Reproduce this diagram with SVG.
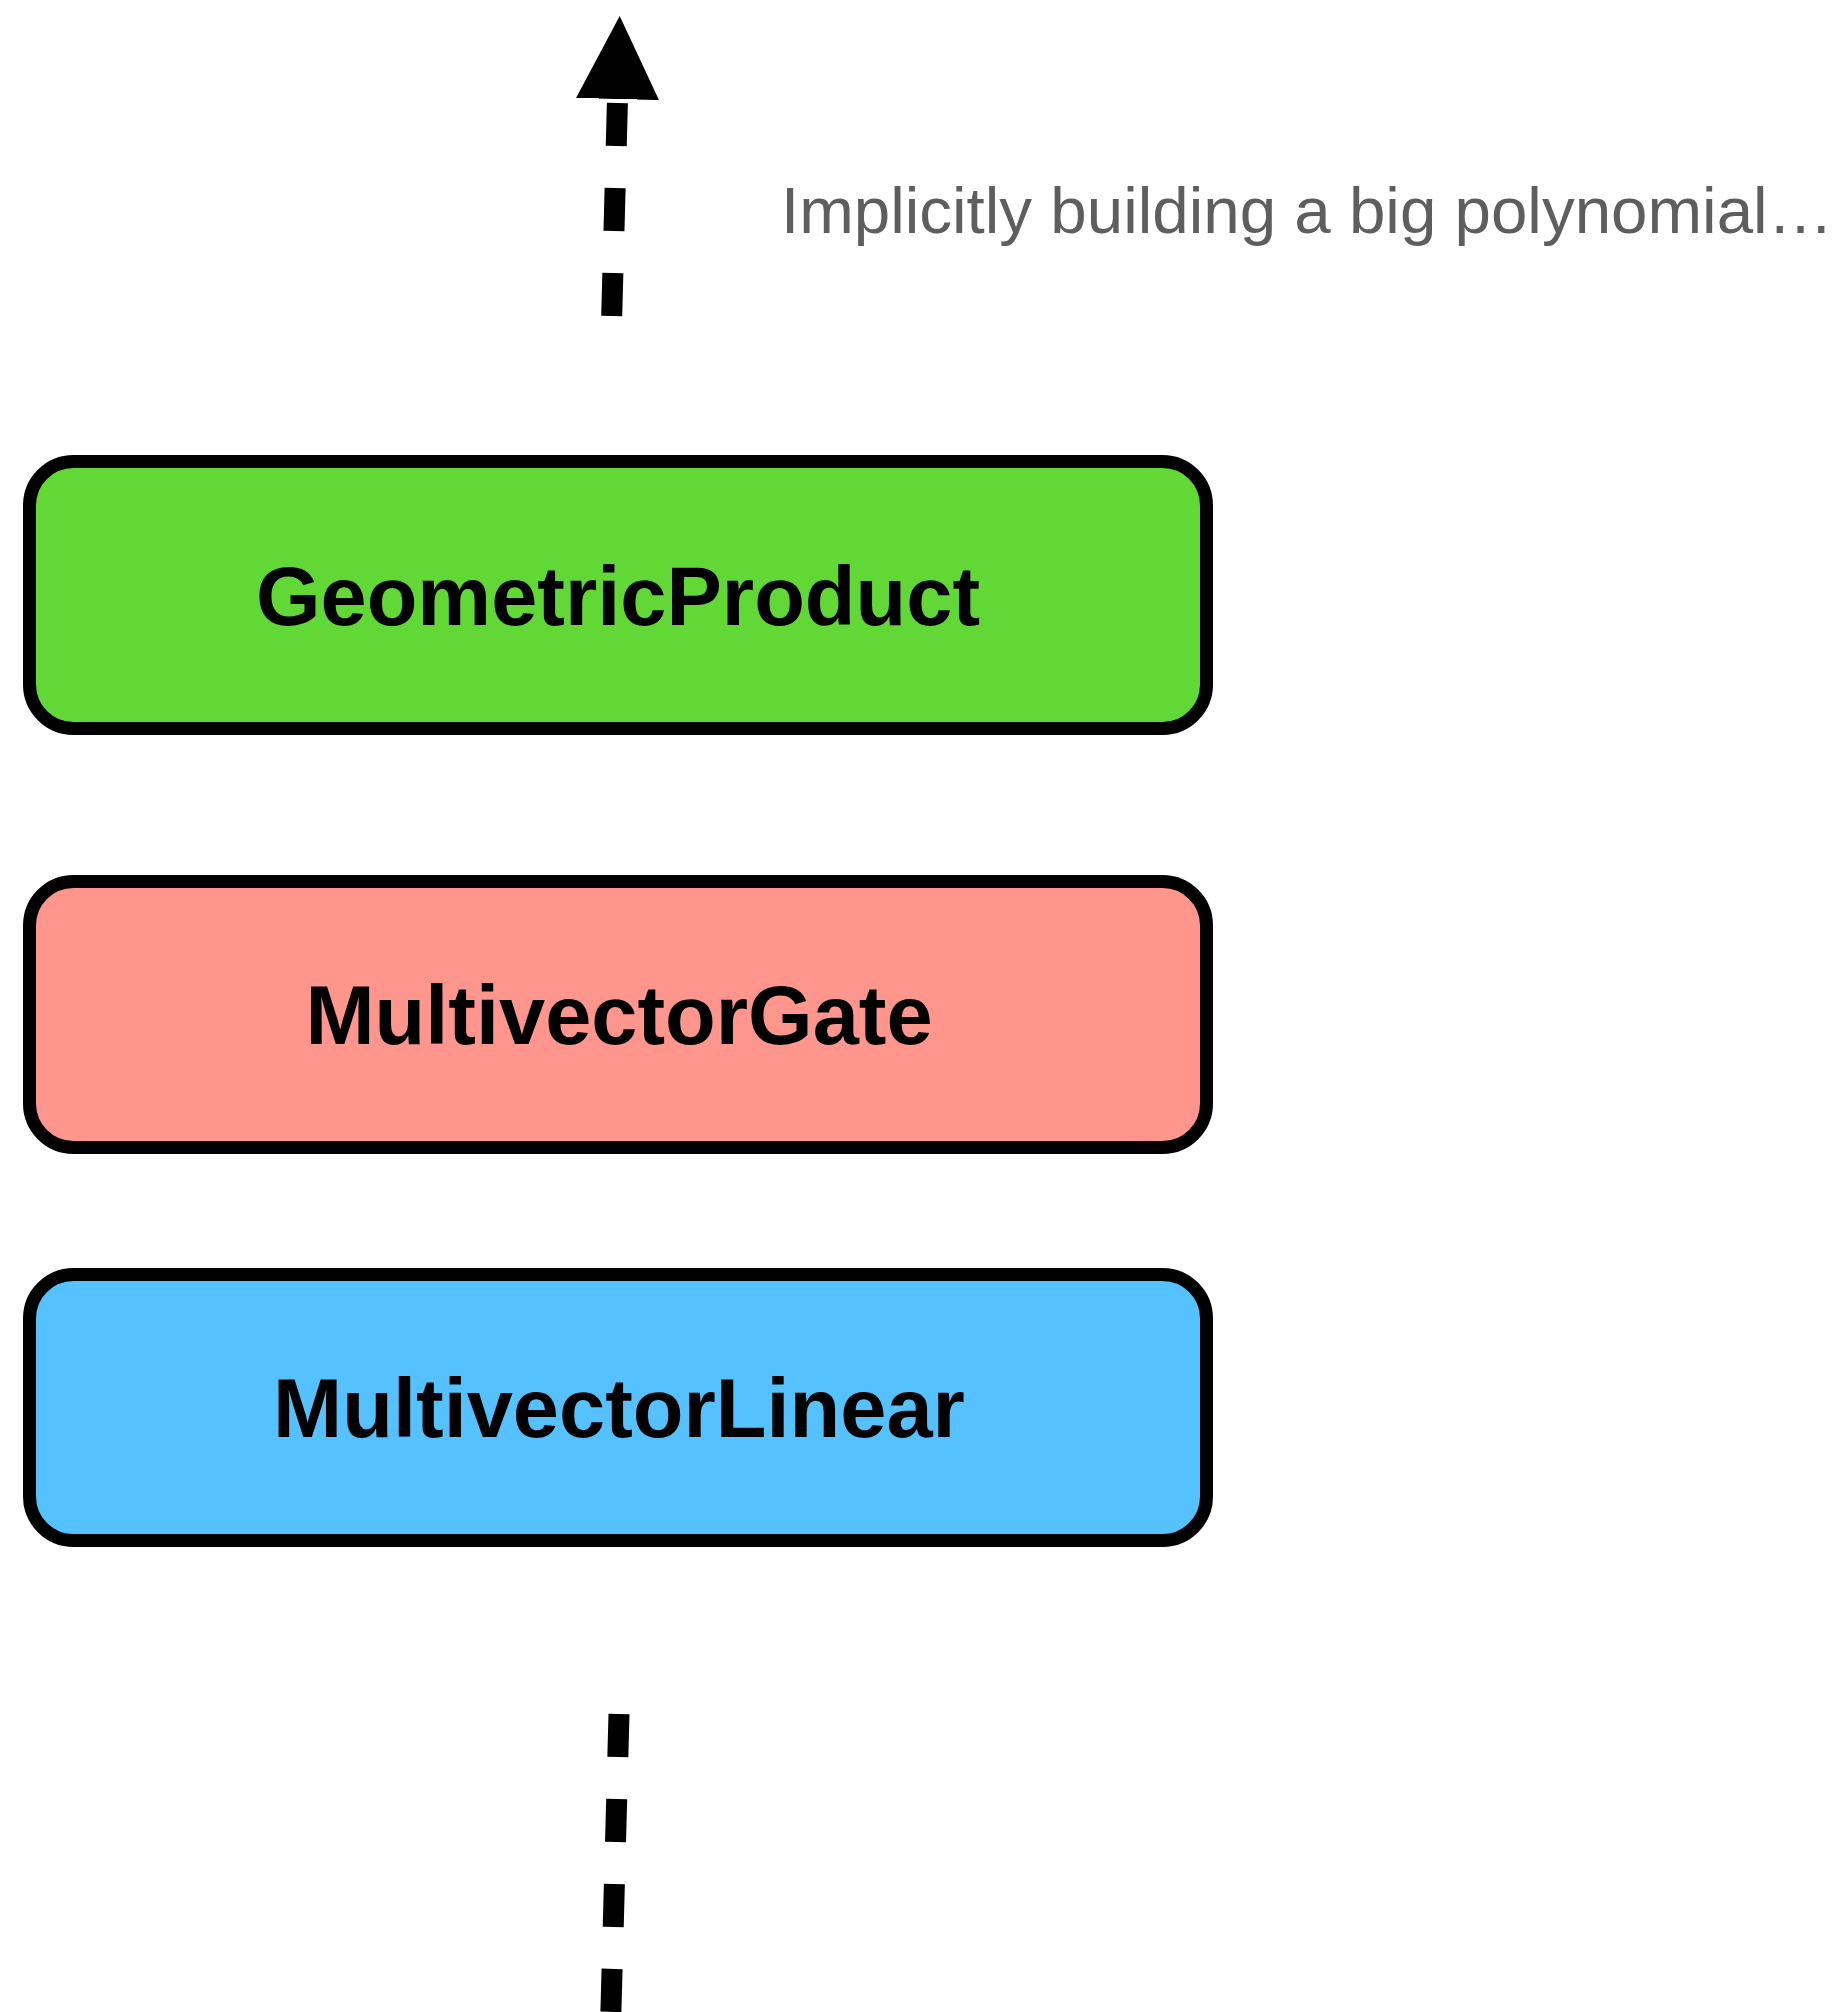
<svg xmlns="http://www.w3.org/2000/svg" width="1845" height="2012" viewBox="0 0 1845 2012">
  <style>
    .box { stroke: #000; stroke-width: 13; }
    .label { font-family: "Liberation Sans", Arial, Helvetica, sans-serif; font-weight: bold; font-size: 83px; fill: #000; text-anchor: middle; }
    .note { font-family: "Liberation Sans", Arial, Helvetica, sans-serif; font-size: 65.5px; fill: #5E5E5E; }
    .flow { fill: none; stroke: #000; stroke-width: 21; stroke-dasharray: 43 42; }
  </style>
  <defs>
    <marker id="head" viewBox="0 0 83 83" refX="0" refY="41.5" markerWidth="83" markerHeight="83" markerUnits="userSpaceOnUse" orient="auto">
      <path d="M0,0 L83,41.5 L0,83 Z" fill="#000"/>
    </marker>
  </defs>

  <rect width="1845" height="2012" fill="#fff"/>

  <g id="connectors">
    <path class="flow" d="M611.7,316 L617.5,99" marker-end="url(#head)"/>
    <path class="flow" d="M619,1714 L610.4,2030"/>
  </g>

  <g id="node-geometric-product">
    <rect class="box" x="29.5" y="461.5" width="1177" height="267" rx="44" ry="44" fill="#61D836"/>
    <text class="label" x="618" y="625">GeometricProduct</text>
  </g>

  <g id="node-multivector-gate">
    <rect class="box" x="29.5" y="881.5" width="1177" height="266" rx="44" ry="44" fill="#FF968D"/>
    <text class="label" x="619" y="1044">MultivectorGate</text>
  </g>

  <g id="node-multivector-linear">
    <rect class="box" x="29.5" y="1274.5" width="1177" height="266" rx="44" ry="44" fill="#56C1FF"/>
    <text class="label" x="619" y="1437">MultivectorLinear</text>
  </g>

  <g id="note">
    <text class="note" x="781" y="233">Implicitly building a big polynomial…</text>
  </g>
</svg>
